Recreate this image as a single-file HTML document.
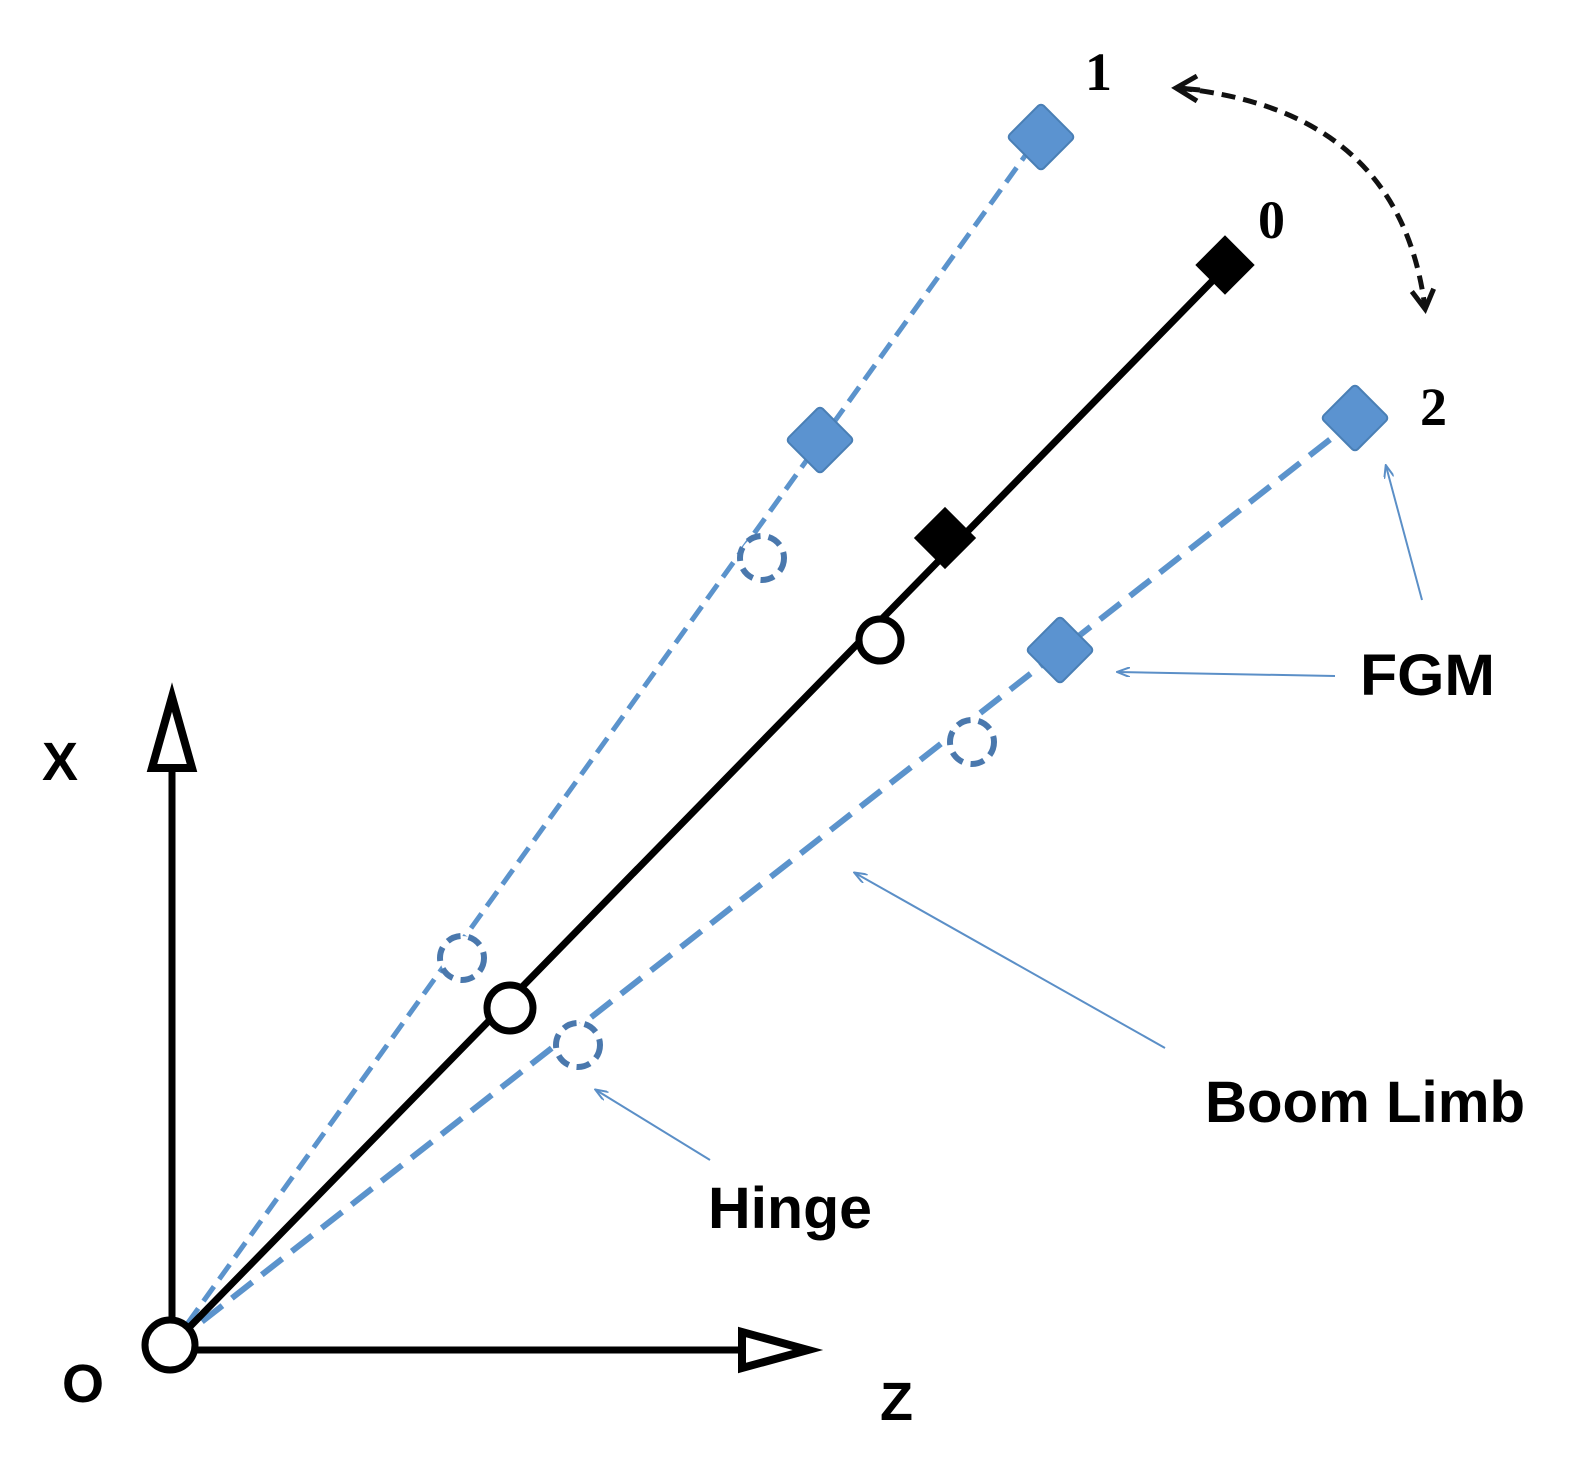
<!DOCTYPE html>
<html><head><meta charset="utf-8"><style>
html,body{margin:0;padding:0;background:#fff;}
svg{display:block;}
</style></head><body>
<svg width="1575" height="1483" viewBox="0 0 1575 1483" xmlns="http://www.w3.org/2000/svg">
<defs>
<marker id="thin" markerWidth="14" markerHeight="10" refX="12" refY="5" orient="auto" markerUnits="userSpaceOnUse">
<path d="M0,0 L13,5 L0,10" fill="none" stroke="#5b8fc7" stroke-width="2"/>
</marker>
<marker id="blk" markerWidth="28" markerHeight="28" refX="20" refY="14" orient="auto" markerUnits="userSpaceOnUse">
<path d="M2,3 L21,14 L2,25" fill="none" stroke="#111" stroke-width="5"/>
</marker>
</defs>
<line x1="172" y1="1345" x2="172" y2="770" stroke="#000" stroke-width="7"/>
<polygon points="172,697 152,768 192,768" fill="#fff" stroke="#000" stroke-width="8"/>
<line x1="172" y1="1350" x2="742" y2="1350" stroke="#000" stroke-width="7"/>
<polygon points="808,1350 742,1332 742,1368" fill="#fff" stroke="#000" stroke-width="8"/>
<line x1="172" y1="1345" x2="1040" y2="135" stroke="#5b93cc" stroke-width="5" stroke-dasharray="18,9"/>
<line x1="172" y1="1345" x2="1355" y2="420" stroke="#5b93cc" stroke-width="6" stroke-dasharray="26,12"/>
<line x1="172" y1="1345" x2="1225" y2="268" stroke="#000" stroke-width="7"/>
<g fill="#5b93d0" stroke="#4a7fb5" stroke-width="2">
<rect x="-24" y="-24" width="48" height="48" rx="4" transform="translate(1041,137) rotate(45)"/>
<rect x="-24" y="-24" width="48" height="48" rx="4" transform="translate(820,440) rotate(45)"/>
<rect x="-24" y="-24" width="48" height="48" rx="4" transform="translate(1355,418) rotate(45)"/>
<rect x="-24" y="-24" width="48" height="48" rx="4" transform="translate(1060,650) rotate(45)"/>
</g>
<rect x="-21" y="-21" width="42" height="42" transform="translate(1225,265) rotate(45)" fill="#000"/>
<rect x="-22" y="-22" width="44" height="44" transform="translate(945,538) rotate(45)" fill="#000"/>
<g fill="#fff" stroke="#4a78ad" stroke-width="6" stroke-dasharray="14,8">
<circle cx="762" cy="558" r="22"/>
<circle cx="462" cy="958" r="22"/>
<circle cx="972" cy="742" r="22"/>
<circle cx="578" cy="1045" r="22"/>
</g>
<circle cx="880" cy="640" r="21" fill="#fff" stroke="#000" stroke-width="7"/>
<circle cx="510" cy="1008" r="23" fill="#fff" stroke="#000" stroke-width="7"/>
<circle cx="170" cy="1345" r="25" fill="#fff" stroke="#000" stroke-width="7"/>
<path d="M1178,88 Q1400,110 1425,308" fill="none" stroke="#111" stroke-width="5" stroke-dasharray="14,8" marker-end="url(#blk)"/>
<path d="M1200,90 L1178,88" fill="none" stroke="#111" stroke-width="5"/>
<path d="M1197,76 L1176,88 L1197,101" fill="none" stroke="#111" stroke-width="5"/>
<g stroke="#5b8fc7" stroke-width="2" fill="none">
<line x1="1422" y1="600" x2="1386" y2="466" marker-end="url(#thin)"/>
<line x1="1335" y1="676" x2="1118" y2="672" marker-end="url(#thin)"/>
<line x1="1165" y1="1048" x2="855" y2="873" marker-end="url(#thin)"/>
<line x1="710" y1="1160" x2="596" y2="1090" marker-end="url(#thin)"/>
</g>
<g font-family="Liberation Serif, serif" font-weight="bold" font-size="54" fill="#000">
<text x="1085" y="90">1</text>
<text x="1258" y="238">0</text>
<text x="1420" y="425">2</text>
</g>
<g font-family="Liberation Sans, sans-serif" font-weight="bold" font-size="58" fill="#000">
<text x="1360" y="695" textLength="135" lengthAdjust="spacingAndGlyphs">FGM</text>
<text x="1205" y="1122" textLength="320" lengthAdjust="spacingAndGlyphs">Boom Limb</text>
<text x="708" y="1228" textLength="164" lengthAdjust="spacingAndGlyphs">Hinge</text>
<text x="42" y="780" font-size="54">X</text>
<text x="62" y="1402" font-size="54">O</text>
<text x="880" y="1420" font-size="54">Z</text>
</g>
</svg>
</body></html>
